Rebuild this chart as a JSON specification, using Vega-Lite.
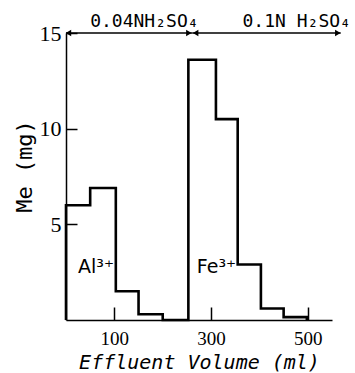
{
  "$schema": "https://vega.github.io/schema/vega-lite/v6.json",
  "width": 266,
  "height": 287,
  "autosize": {"type": "none"},
  "padding": {"left": 66, "top": 33, "right": 23, "bottom": 53},
  "background": "white",
  "config": {
    "view": {"stroke": null},
    "font": "DejaVu Sans",
    "axis": {"grid": false, "domainColor": "black", "tickColor": "black", "labelColor": "black", "titleColor": "black", "domainWidth": 1.5, "tickWidth": 1.5, "labelFont": "Liberation Sans Narrow", "titleFont": "DejaVu Sans Mono", "titleFontWeight": "normal"}
  },
  "datasets": {
    "steps": [
      {"volume": 0, "me": 0},
      {"volume": 0, "me": 6.0},
      {"volume": 50, "me": 6.9},
      {"volume": 103, "me": 1.5},
      {"volume": 150, "me": 0.3},
      {"volume": 200, "me": 0},
      {"volume": 253, "me": 13.6},
      {"volume": 310, "me": 10.5},
      {"volume": 355, "me": 2.9},
      {"volume": 403, "me": 0.6},
      {"volume": 450, "me": 0.15},
      {"volume": 498, "me": 0}
    ],
    "arrows": [
      {"start": 0, "end": 261, "level": 15},
      {"start": 261, "end": 568, "level": 15}
    ],
    "heads": [
      {"volume": 5, "level": 15, "dir": "left"},
      {"volume": 254, "level": 15, "dir": "right"},
      {"volume": 268, "level": 15, "dir": "left"},
      {"volume": 562, "level": 15, "dir": "right"}
    ],
    "eluents": [
      {"volume": 50, "level": 15.55, "text": "0.04NH₂SO₄"},
      {"volume": 365, "level": 15.55, "text": "0.1N H₂SO₄"}
    ],
    "ions": [
      {"volume": 62, "level": 2.75, "text": "Al³⁺"},
      {"volume": 311, "level": 2.75, "text": "Fe³⁺"}
    ]
  },
  "layer": [
    {
      "data": {"name": "steps"},
      "mark": {"type": "line", "interpolate": "step-after", "color": "black", "strokeWidth": 2.6, "clip": false},
      "encoding": {
        "x": {"field": "volume", "type": "quantitative", "scale": {"domain": [0, 550], "nice": false, "zero": false},
          "axis": {"values": [100, 300, 500], "tickSize": -13, "labelPadding": 22, "labelFontSize": 19, "title": "Effluent Volume (ml)", "titleFontSize": 20, "titleFontStyle": "italic", "titlePadding": 4}},
        "y": {"field": "me", "type": "quantitative", "scale": {"domain": [0, 15], "nice": false},
          "axis": {"values": [5, 10, 15], "tickSize": -11, "labelPadding": 16, "labelFontSize": 22, "title": "Me (mg)", "titleFontSize": 22, "titleX": -42, "titleY": 133, "titleAngle": 270, "titleAlign": "center", "titleBaseline": "middle"}}
      }
    },
    {
      "data": {"name": "arrows"},
      "mark": {"type": "rule", "color": "black", "strokeWidth": 1.5, "clip": false},
      "encoding": {
        "x": {"field": "start", "type": "quantitative"},
        "x2": {"field": "end"},
        "y": {"field": "level", "type": "quantitative"}
      }
    },
    {
      "data": {"name": "heads"},
      "mark": {"type": "point", "filled": true, "color": "black", "opacity": 1, "size": 40, "clip": false},
      "encoding": {
        "x": {"field": "volume", "type": "quantitative"},
        "y": {"field": "level", "type": "quantitative"},
        "shape": {"field": "dir", "type": "nominal", "scale": {"domain": ["left", "right"], "range": ["triangle-left", "triangle-right"]}, "legend": null}
      }
    },
    {
      "data": {"name": "eluents"},
      "mark": {"type": "text", "color": "black", "font": "DejaVu Sans Mono", "fontSize": 18, "align": "left", "baseline": "middle", "clip": false},
      "encoding": {
        "x": {"field": "volume", "type": "quantitative"},
        "y": {"field": "level", "type": "quantitative"},
        "text": {"field": "text"}
      }
    },
    {
      "data": {"name": "ions"},
      "mark": {"type": "text", "color": "black", "font": "DejaVu Sans", "fontSize": 19, "align": "center", "baseline": "middle", "clip": false},
      "encoding": {
        "x": {"field": "volume", "type": "quantitative"},
        "y": {"field": "level", "type": "quantitative"},
        "text": {"field": "text"}
      }
    }
  ]
}
